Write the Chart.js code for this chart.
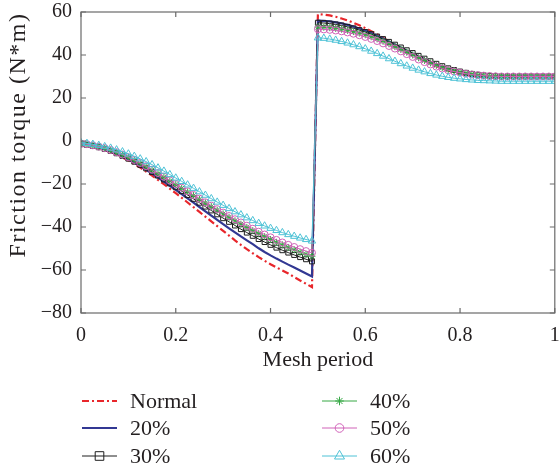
<!DOCTYPE html>
<html><head><meta charset="utf-8">
<script src="https://cdn.jsdelivr.net/npm/chart.js@4.4.0/dist/chart.umd.min.js"></script>
<style>html,body{margin:0;padding:0;background:#fff}canvas{display:block}</style>
</head><body>
<canvas id="c" width="560" height="466"></canvas>
<script>
// Mesh period (x)
const meshPeriod = [0,0.0125,0.025,0.0375,0.05,0.0625,0.075,0.0875,0.1,0.1125,0.125,0.1375,0.15,0.1625,0.175,0.1875,0.2,0.2125,0.225,0.2375,0.25,0.2625,0.275,0.2875,0.3,0.3125,0.325,0.3375,0.35,0.3625,0.375,0.3875,0.4,0.4125,0.425,0.4375,0.45,0.4625,0.475,0.4875,
 0.5,0.5125,0.525,0.5375,0.55,0.5625,0.575,0.5875,0.6,0.6125,0.625,0.6375,0.65,0.6625,0.675,0.6875,0.7,0.7125,0.725,0.7375,0.75,0.7625,0.775,0.7875,0.8,0.8125,0.825,0.8375,0.85,0.8625,0.875,0.8875,0.9,0.9125,0.925,0.9375,0.95,0.9625,0.975,0.9875,1];

const normal = [-1.5,-1.8,-2.3,-3.0,-3.9,-5.0,-6.2,-7.6,-9.1,-10.7,-12.4,-14.2,-16.1,-18.1,-20.1,-22.2,-24.3,-26.4,-28.6,-30.8,-33.0,-35.2,-37.4,-39.6,-41.8,-44.0,-46.2,-48.3,-50.3,-52.2,-54.0,-55.7,-57.3,-58.8,-60.2,-61.6,-63.3,-64.9,-66.4,-68.0,
 59.0,58.8,58.4,57.8,57.0,56.1,55.0,53.8,52.5,51.1,49.6,48.0,46.4,44.8,43.2,41.6,40.1,38.7,37.3,36.0,34.8,33.7,32.8,32.0,31.4,30.9,30.6,30.4,30.2,30.1,30.0,30.0,30.0,30.0,30.0,30.0,30.0,30.0,30.0,30.0,30.0];

const wear20 = [-1.5,-1.8,-2.3,-3.0,-3.8,-4.8,-5.9,-7.2,-8.6,-10.1,-11.7,-13.4,-15.2,-17.0,-18.9,-20.8,-22.7,-24.7,-26.7,-28.7,-30.7,-32.7,-34.7,-36.7,-38.7,-40.6,-42.5,-44.4,-46.2,-48.0,-49.9,-51.6,-53.2,-54.7,-56.1,-57.5,-58.8,-60.2,-61.6,-63.0,
 56.0,55.9,55.6,55.2,54.7,54.0,53.2,52.3,51.3,50.2,49.0,47.7,46.3,44.9,43.5,42.1,40.7,39.3,38.0,36.7,35.5,34.4,33.4,32.6,31.9,31.3,30.9,30.6,30.3,30.1,30.0,30.0,30.0,30.0,30.0,30.0,30.0,30.0,30.0,30.0,30.0];

const wear30 = [-1.5,-1.8,-2.3,-2.9,-3.7,-4.6,-5.7,-6.9,-8.2,-9.6,-11.1,-12.7,-14.4,-16.1,-17.9,-19.7,-21.5,-23.3,-25.1,-26.9,-28.7,-30.5,-32.3,-34.1,-35.9,-37.6,-39.3,-41.0,-42.6,-44.1,-45.6,-47.0,-48.3,-49.6,-50.8,-51.9,-53.0,-54.0,-55.0,-56.0,
 55.0,54.9,54.6,54.2,53.7,53.1,52.4,51.6,50.7,49.7,48.6,47.4,46.1,44.8,43.5,42.2,40.9,39.6,38.3,37.1,35.9,34.8,33.8,33.0,32.3,31.7,31.2,30.8,30.5,30.3,30.1,30.0,30.0,30.0,30.0,30.0,30.0,30.0,30.0,30.0,30.0];

const wear40 = [-1.3,-1.6,-2.1,-2.7,-3.5,-4.4,-5.4,-6.5,-7.7,-9.0,-10.4,-11.9,-13.5,-15.2,-16.9,-18.6,-20.3,-22.0,-23.7,-25.4,-27.1,-28.8,-30.5,-32.2,-33.9,-35.5,-37.1,-38.7,-40.2,-41.7,-43.1,-44.5,-45.8,-47.1,-48.3,-49.5,-50.6,-51.7,-52.7,-53.6,
 53.0,52.9,52.7,52.4,52.0,51.5,50.9,50.2,49.4,48.5,47.5,46.4,45.2,43.9,42.6,41.3,40.0,38.7,37.5,36.3,35.2,34.2,33.3,32.6,32.0,31.5,31.1,30.7,30.4,30.2,30.1,30.0,30.0,30.0,30.0,30.0,30.0,30.0,30.0,30.0,30.0];

const wear50 = [-1.2,-1.5,-2.0,-2.6,-3.3,-4.2,-5.2,-6.3,-7.5,-8.8,-10.2,-11.7,-13.3,-14.9,-16.6,-18.3,-20.0,-21.7,-23.4,-25.1,-26.8,-28.5,-30.1,-31.7,-33.3,-34.9,-36.4,-37.9,-39.4,-40.8,-42.2,-43.5,-44.8,-46.0,-47.2,-48.3,-49.3,-50.3,-51.2,-52.0,
 52.0,51.9,51.7,51.4,51.0,50.5,49.9,49.2,48.4,47.5,46.5,45.4,44.2,43.0,41.7,40.4,39.1,37.9,36.7,35.6,34.6,33.7,32.9,32.3,31.8,31.3,30.9,30.6,30.4,30.2,30.1,30.0,30.0,30.0,30.0,30.0,30.0,30.0,30.0,30.0,30.0];

const wear60 = [-0.8,-1.1,-1.5,-2.0,-2.6,-3.3,-4.1,-5.0,-6.0,-7.1,-8.3,-9.6,-11.0,-12.5,-14.0,-15.6,-17.2,-18.8,-20.4,-22.0,-23.6,-25.2,-26.8,-28.4,-29.9,-31.4,-32.9,-34.3,-35.7,-37.0,-38.3,-39.5,-40.6,-41.6,-42.6,-43.5,-44.3,-45.1,-45.8,-46.5,
 48.0,47.8,47.4,46.9,46.3,45.6,44.8,43.9,42.9,41.8,40.7,39.5,38.3,37.1,36.0,34.9,33.9,33.0,32.2,31.4,30.7,30.1,29.6,29.2,28.9,28.6,28.4,28.2,28.1,28.0,27.9,27.8,27.8,27.8,27.8,27.8,27.8,27.8,27.8,27.8,27.8];

const seriesNames = ['Normal','20%','30%','40%','50%','60%'];
const xTickLabels = ['0','0.2','0.4','0.6','0.8','1'];
const yTickValues = [-80,-60,-40,-20,0,20,40,60];
const xTitle = 'Mesh period';
const yTitle = 'Friction torque (N*m)';

const FONT = '"Liberation Serif", "Times New Roman", serif';
const TXT = '#231f20';

function pts(arr){ return arr.map((v,i)=>({x:meshPeriod[i], y:v})); }

const styles = [
  {color:'#e8262b', width:2.2, dash:[7,3,2,3], marker:null, order:6},
  {color:'#323893', width:2.2, dash:[], marker:null, order:5},
  {color:'#1e1e1e', width:1, dash:[], marker:'rect', r:3.5, order:4},
  {color:'#36a845', width:1, dash:[], marker:'star', r:3.5, order:3},
  {color:'#d062b8', width:1, dash:[], marker:'circle', r:3.5, order:2},
  {color:'#4ec2d6', width:1, dash:[], marker:'triangle', r:4.2, order:1}
];
const values = [normal, wear20, wear30, wear40, wear50, wear60];

const datasets = values.map((arr,i)=>{
  const s = styles[i];
  return {
    label: seriesNames[i], data: pts(arr),
    borderColor: s.color, borderWidth: s.width, borderDash: s.dash,
    pointStyle: s.marker || 'circle', pointRadius: s.marker ? s.r : 0,
    pointBorderColor: s.color, pointBackgroundColor: 'rgba(0,0,0,0)', pointBorderWidth: 1,
    tension: 0, fill: false, order: s.order
  };
});

function drawMarker(ctx, type, x, y, r){
  ctx.beginPath();
  if (type === 'rect') { ctx.rect(x-r, y-r, 2*r, 2*r); }
  else if (type === 'circle') { ctx.arc(x, y, r, 0, Math.PI*2); }
  else if (type === 'triangle') {
    ctx.moveTo(x, y - r*1.15); ctx.lineTo(x + r, y + r*0.6); ctx.lineTo(x - r, y + r*0.6); ctx.closePath();
  } else if (type === 'star') {
    ctx.moveTo(x-r,y); ctx.lineTo(x+r,y); ctx.moveTo(x,y-r); ctx.lineTo(x,y+r);
    const d = r*0.707; ctx.moveTo(x-d,y-d); ctx.lineTo(x+d,y+d); ctx.moveTo(x-d,y+d); ctx.lineTo(x+d,y-d);
  }
  ctx.stroke();
}

const framePlugin = {
  id: 'frame',
  afterDraw(chart){
    const {ctx, chartArea:a, scales:{x, y}} = chart;
    ctx.save();
    ctx.strokeStyle = '#6a6a6a'; ctx.lineWidth = 1.2; ctx.setLineDash([]);
    ctx.strokeRect(a.left, a.top, a.right - a.left, a.bottom - a.top);
    ctx.beginPath();
    x.ticks.forEach(t=>{ const px = x.getPixelForValue(t.value);
      ctx.moveTo(px, a.bottom); ctx.lineTo(px, a.bottom-5);
      ctx.moveTo(px, a.top); ctx.lineTo(px, a.top+5); });
    y.ticks.forEach(t=>{ const py = y.getPixelForValue(t.value);
      ctx.moveTo(a.left, py); ctx.lineTo(a.left+5, py);
      ctx.moveTo(a.right, py); ctx.lineTo(a.right-5, py); });
    ctx.stroke();

    // axis titles
    ctx.fillStyle = TXT;
    ctx.font = '22px ' + FONT;
    ctx.textAlign = 'center'; ctx.textBaseline = 'middle';
    ctx.fillText(xTitle, (a.left + a.right)/2, 360);
    ctx.save();
    ctx.translate(19, 135); ctx.rotate(-Math.PI/2);
    ctx.font = '24px ' + FONT;
    try { ctx.letterSpacing = '1.5px'; } catch(e) {}
    ctx.fillText(yTitle, 0, 0);
    ctx.restore();

    // legend (two columns, three rows)
    const cols = [82, 322], rows = [401, 428, 456];
    ctx.font = '22px ' + FONT;
    ctx.textAlign = 'left'; ctx.textBaseline = 'middle';
    seriesNames.forEach((name,i)=>{
      const s = styles[i];
      const cx = cols[Math.floor(i/3)], cy = rows[i%3];
      ctx.strokeStyle = s.color; ctx.lineWidth = s.width; ctx.setLineDash(s.dash);
      ctx.beginPath(); ctx.moveTo(cx, cy); ctx.lineTo(cx+35, cy); ctx.stroke();
      ctx.setLineDash([]);
      if (s.marker) { ctx.lineWidth = 1; drawMarker(ctx, s.marker, cx+17.5, cy, s.r+0.8); }
      ctx.fillStyle = TXT;
      ctx.fillText(name, cx+48, cy+1);
    });
    ctx.restore();
  }
};

new Chart(document.getElementById('c'), {
  type: 'line',
  data: { datasets },
  options: {
    responsive: false, animation: false, devicePixelRatio: 1,
    layout: { padding: { left: 0, right: 4, top: 12, bottom: 83 } },
    plugins: { legend: { display: false }, tooltip: { enabled: false } },
    scales: {
      x: {
        type: 'linear', min: 0, max: 1,
        afterBuildTicks: s => { s.ticks = xTickLabels.map(v => ({value: parseFloat(v)})); },
        ticks: { font: { family: FONT, size: 20 }, color: TXT, padding: 11, maxRotation: 0, autoSkip: false,
                 callback: (v) => xTickLabels.find(l => parseFloat(l) === v) ?? '' },
        grid: { display: false, drawTicks: false }, border: { display: false },
        afterFit: s => { s.height = 70; s.paddingLeft = 0; s.paddingRight = 0; }
      },
      y: {
        type: 'linear', min: -80, max: 60,
        afterBuildTicks: s => { s.ticks = yTickValues.map(v => ({value: v})); },
        ticks: { font: { family: FONT, size: 20 }, color: TXT, padding: 9, autoSkip: false,
                 callback: (v) => String(v).replace('-', '\u2212') },
        grid: { display: false, drawTicks: false }, border: { display: false },
        afterFit: s => { s.width = 81; s.paddingTop = 0; s.paddingBottom = 0; }
      }
    }
  },
  plugins: [framePlugin]
});
</script>
</body></html>
